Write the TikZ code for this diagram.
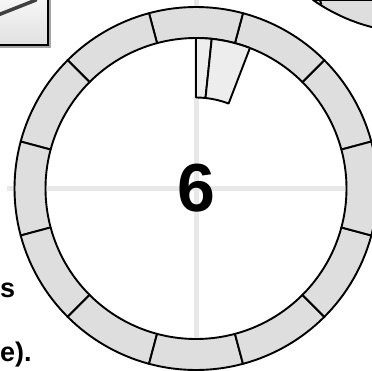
\documentclass[tikz,border=0pt]{standalone}
\usepackage{fontspec}
\setmainfont{Liberation Sans}
\begin{document}
\begin{tikzpicture}[x=1pt,y=1pt,
  seg/.style={draw=black,line width=1.9pt,fill=black!13,line join=round},
  handpart/.style={draw=black,line width=1.9pt,fill=black!7,line join=round},
  cross/.style={draw=black!9,line width=5pt},
  lbl/.style={font=\bfseries\fontsize{27}{27}\selectfont,inner sep=0pt}]
\useasboundingbox (0,0) rectangle (372,-370);
\clip (0,0) rectangle (372,-370);
% crosshair
\draw[cross] (7,-188.5) -- (385,-188.5);
\draw[cross] (196,2) -- (196,-378);
% ring of 12 segments
\foreach \a in {15,45,...,345}{
  \pgfmathsetmacro{\b}{\a+30}
  \filldraw[seg] ([shift={(196,-188.5)}]\a:181.5) arc[start angle=\a,end angle=\b,radius=181.5]
    -- ([shift={(196,-188.5)}]\b:150.5) arc[start angle=\b,end angle=\a,radius=150.5] -- cycle;
}
% hand
\filldraw[handpart] ([shift={(196,-188.5)}]90:150.5) arc[start angle=90,end angle=84,radius=150.5]
  -- ([shift={(196,-188.5)}]84:91) arc[start angle=84,end angle=90,radius=91] -- cycle;
\filldraw[handpart] ([shift={(196,-188.5)}]84:150.5) arc[start angle=84,end angle=69,radius=150.5]
  -- ([shift={(196,-188.5)}]69:91) arc[start angle=69,end angle=84,radius=91] -- cycle;
% centre number
\node[font=\bfseries\fontsize{68}{68}\selectfont,inner sep=0pt] (num) at (196,-188) {6};
% top-left box (cut off)
\draw[black!35,line width=3pt] (-20,-46.5) -- (49.5,-46.5) -- (49.5,20);
\shade[top color=white,bottom color=black!12] (-20,20) rectangle (48,-45);
\draw[line width=2.6pt] (-20,20) rectangle (48,-45);
\draw[black!75,line width=3.5pt,line cap=round] (36,0) -- (-2,-15);
% top-right ring part (cut off)
\filldraw[seg] (313,0) arc[start angle=235,end angle=285,radius=181.5] -- (372,0) -- cycle;
\draw[line width=1.9pt] (319.5,1) -- (321.5,-4.5);
% cut-off text
\node[lbl,anchor=base west] (s) at (0,-297) {s};
\node[lbl,anchor=base west] (e) at (0,-361) {e).};
\end{tikzpicture}
\end{document}
